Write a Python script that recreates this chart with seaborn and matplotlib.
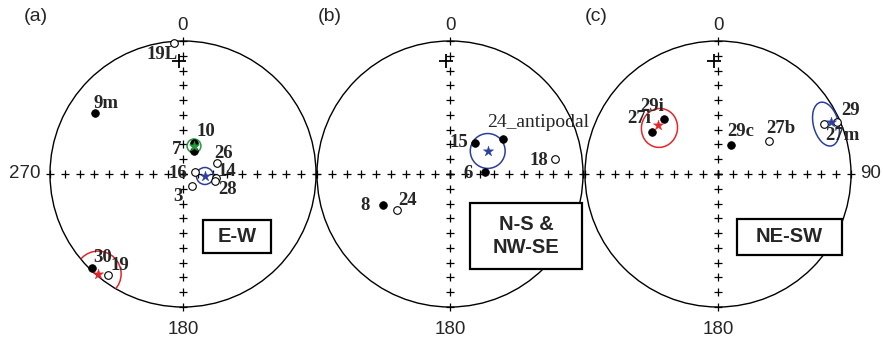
import numpy as np
import pandas as pd
import matplotlib
matplotlib.use("Agg")
import matplotlib.pyplot as plt
import seaborn as sns
from matplotlib.patches import Circle, Ellipse, Rectangle

sns.set_style("white")
plt.rcParams['font.family'] = ['Liberation Sans', 'DejaVu Sans']

# ---------------- data (declination, inclination; inc<0 = open symbol) ----------------
a_names = ['19L', '9m', '10', '7', '26', '14', '28', '16', '3', '30', '19']
a_dec = [356.0, 304.7, 19.9, 25.9, 72.6, 96.9, 102.3, 79.3, 144.0, 223.9, 216.7]
a_inc = [-1.0, 17.5, 67.5, 72.5, -66.2, -67.5, -67.8, -81.7, -79.6, 1.4, -4.8]

b_names = ['15', '24_antipodal', '6', '18', '8', '24']
b_dec = [38.7, 56.6, 87.2, 81.9, 245.3, 235.6]
b_inc = [62.9, 47.3, 66.3, -18.3, 39.9, -46.8]

c_names = ['29i', '27i', '29c', '27b', '29', '27m']
c_dec = [315.5, 302.4, 23.7, 57.3, 66.6, 64.9]
c_inc = [38.1, 37.3, 68.6, -48.7, -2.0, -10.6]

# group means and confidence cones (a95 in degrees; ellipses: two semi-axes + tilt)
a_mean_dec = [21.4, 95.2, 220.3]
a_mean_inc = [69.6, -75.1, 1.3]
a_a95 = [4.7, 5.75, 15.5]
a_colors = ['#249a3c', '#2b3f9e', '#e3262a']

b_mean_dec = [58.6]
b_mean_inc = [60.1]
b_a95 = [11.8]
b_colors = ['#2b3f9e']

c_mean_dec = [309.3, 65.4]
c_mean_inc = [37.7, -5.9]
c_ell_dec = [308.2, 65.2]
c_ell_inc = [39.6, -9.5]
c_ell_ax1 = [12.2, 8.5]
c_ell_ax2 = [13.2, 15.2]
c_ell_tilt = [-10, 15]
c_colors = ['#e3262a', '#2b3f9e']

ref_dec, ref_inc = 358.0, 13.5
tick_inc = np.arange(0, 91, 10)
tick_dec = [0, 90, 180, 270]

panel_tags = ['(a)', '(b)', '(c)']
box_texts = ['E-W', 'N-S &\nNW-SE', 'NE-SW']

# ---------------- layout ----------------
W, H = 883, 338
R_PX = 133.0
CY = 174
centers = [183, 450, 718]
HALF = 175

a_off = [(-11.5, -12), (11, 9.5), (11.5, 11), (-18, 1.5), (7.5, 9.5), (11, 6),
         (13, -9), (-17, -1.5), (-14, -10.5), (10.7, 11), (12.3, 9.5)]
b_off = [(-16, 0), (35.5, 17), (-17, -1), (-16, -1), (-17.5, -0.5), (10, 10)]
c_off = [(-12, 13), (-13, 14), (9.5, 13.5), (12, 12.5), (13, 12), (18, -11)]

boxes = [(0.150, -0.594, 0.512, 0.248), (0.150, -0.714, 0.842, 0.496),
         (0.143, -0.609, 0.789, 0.271)]
tag_x = [-1.109, -0.902, -0.917]


def proj(dec, inc):
    d = np.radians(np.asarray(dec, float))
    r = (90 - np.abs(np.asarray(inc, float))) / 90.0
    return r * np.sin(d), r * np.cos(d)


fig = plt.figure(figsize=(W / 100, H / 100), dpi=100)
serif_family = ['Liberation Serif', 'DejaVu Serif']

nets = [(a_names, a_dec, a_inc, a_off), (b_names, b_dec, b_inc, b_off),
        (c_names, c_dec, c_inc, c_off)]

for i, cx in enumerate(centers):
    ax = fig.add_axes([(cx - HALF) / W, 0, 2 * HALF / W, 1])
    ax.set_xlim(-HALF / R_PX, HALF / R_PX)
    ax.set_ylim(-(H - CY) / R_PX, CY / R_PX)
    ax.axis('off')
    ax.patch.set_visible(False)

    prim = Circle((0, 0), 1.0, fill=False, lw=1.0, color='black', zorder=2)
    ax.add_patch(prim)

    # tick crosses
    tx, ty = [], []
    for d in tick_dec:
        x, y = proj([d] * len(tick_inc), tick_inc)
        tx += list(x)
        ty += list(y)
    sns.scatterplot(x=tx, y=ty, marker='+', color='black', s=38, linewidth=0.9,
                    ax=ax, zorder=3, legend=False)
    rx, ry = proj([ref_dec], [ref_inc])
    sns.scatterplot(x=rx, y=ry, marker='+', color='black', s=95, linewidth=1.3,
                    ax=ax, zorder=3, legend=False)

    # direction labels
    ax.text(0, 1.12, '0', ha='center', va='center', fontsize=13.5)
    ax.text(0, -1.17, '180', ha='center', va='center', fontsize=13.5)
    if i == 0:
        ax.text(-1.075, 0, '270', ha='right', va='center', fontsize=13.5)
    if i == 2:
        ax.text(1.07, 0, '90', ha='left', va='center', fontsize=13.5)
    ax.text(tag_x[i], 1.184, panel_tags[i], ha='center', va='center', fontsize=14)

    # confidence shapes and means
    if i == 0:
        mx, my = proj(a_mean_dec, a_mean_inc)
        for k in range(len(mx)):
            c = Circle((mx[k], my[k]), a_a95[k] / 90.0, fill=False,
                       ec=a_colors[k], lw=1.1, zorder=4)
            ax.add_patch(c)
            c.set_clip_path(prim)
        star_cols = a_colors
    elif i == 1:
        mx, my = proj(b_mean_dec, b_mean_inc)
        for k in range(len(mx)):
            ax.add_patch(Circle((mx[k], my[k]), b_a95[k] / 90.0, fill=False,
                                ec=b_colors[k], lw=1.1, zorder=4))
        star_cols = b_colors
    else:
        mx, my = proj(c_mean_dec, c_mean_inc)
        ex, ey = proj(c_ell_dec, c_ell_inc)
        for k in range(len(mx)):
            ax.add_patch(Ellipse((ex[k], ey[k]), 2 * c_ell_ax1[k] / 90.0,
                                 2 * c_ell_ax2[k] / 90.0, angle=c_ell_tilt[k],
                                 fill=False, ec=c_colors[k], lw=1.1, zorder=4))
        star_cols = c_colors

    # points
    names, dec, inc, offs = nets[i]
    px, py = proj(dec, inc)
    df = pd.DataFrame({'x': px, 'y': py, 'inc': inc, 'name': names})
    lower = df[df['inc'] >= 0]
    upper = df[df['inc'] < 0]
    sns.scatterplot(data=lower, x='x', y='y', color='black', edgecolor='black',
                    s=30, linewidth=0.6, ax=ax, zorder=5, legend=False)
    sns.scatterplot(data=upper, x='x', y='y', color='white', edgecolor='black',
                    s=30, linewidth=0.8, ax=ax, zorder=5, legend=False)
    for k in range(len(mx)):
        sns.scatterplot(x=[mx[k]], y=[my[k]], marker='*', color=star_cols[k],
                        edgecolor=star_cols[k], s=60, linewidth=0.3, ax=ax,
                        zorder=6, legend=False)

    for k, nm in enumerate(names):
        if nm == '24_antipodal':
            w, fs = 'normal', 14
        else:
            w, fs = 'bold', 13.5
        ax.annotate(nm, (px[k], py[k]), xytext=offs[k], textcoords='offset pixels',
                    ha='center', va='center', zorder=7, family=serif_family,
                    fontweight=w, fontsize=fs)

    # label box
    bx, by, bw, bh = boxes[i]
    ax.add_patch(Rectangle((bx, by), bw, bh, fc='white', ec='black', lw=1.6, zorder=8))
    ax.text(bx + bw / 2, by + bh / 2, box_texts[i], ha='center', va='center',
            fontsize=14.5, fontweight='bold', zorder=9, linespacing=1.25)

fig.savefig('out.png', dpi=100)
